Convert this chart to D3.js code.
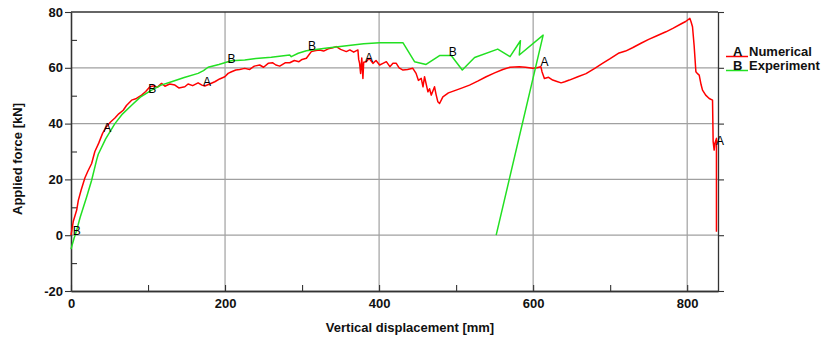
<!DOCTYPE html>
<html>
<head>
<meta charset="utf-8">
<script src="https://cdn.jsdelivr.net/npm/d3@7"></script>
<style>
  html, body { margin: 0; padding: 0; background: #fff; }
  svg { display: block; font-family: "Liberation Sans", Arial, sans-serif; }
</style>
</head>
<body>
<svg id="chart" width="823" height="340"></svg>
<script>
// data (x in mm, y in kN)
const numerical = [
  [0,0],[3,5],[7.4,9],[9.5,12.5],[13,16],[18,20.5],[22,23],[26.8,25.7],[31,30],[36,33],[41,36.5],
  [46,38.9],[51,40.5],[57,42],[62,43.5],[67.8,44.8],[72,46.5],[78.7,48.4],[85,49],[91.7,50.2],
  [97,51.5],[102.4,53.2],[108,53.6],[112,53],[117.6,54.4],[122,53.4],[128,54.2],[134.9,53.8],
  [140,52.8],[147.8,53.2],[152,54.2],[158,53.6],[165,54.6],[170,53.8],[173.7,53.5],[180,54.2],
  [186.7,55],[193,56],[199.7,56.8],[204,58],[208.4,58.6],[214,59.2],[219,59.4],[225.6,59.8],
  [232,59.4],[238,60.6],[245,61],[250,60.2],[256,61.6],[262,61.8],[266,61],[271,60.6],[278,61.8],
  [284,61.8],[290,62.6],[296,62.2],[300,63],[305.6,63.4],[312,65.8],[318,66.2],[322.9,66.4],
  [328,66],[334,66.8],[340,67.2],[344.5,67.6],[350,66.6],[357.5,65.8],[362,66.4],[367,65.6],
  [372.5,66.4],[373.5,63],[374.7,61.6],[376,58],[377.5,63.5],[379,56.2],[380,62],[383.4,62.2],
  [387,63.4],[392,61.6],[396,62.6],[400.7,61],[405,61.6],[409.4,62.2],[414,60.4],[418,61.6],
  [422.3,61.6],[426,60],[431,59.2],[437,59.4],[443.8,59.8],[448,58],[451,55.5],[454.7,56.2],
  [457,53.2],[459,56.8],[463.4,51.4],[465.5,52.5],[467.7,50.2],[472,53.2],[474,50.4],[476.3,47.8],
  [478.5,47.2],[482.8,49.6],[490,51],[500,52],[508,52.8],[517.4,53.8],[528,55.2],[539,56.8],
  [550,58.2],[560.6,59.4],[570,60.2],[582,60.4],[590,60.2],[599.5,59.8],[605,60],[610,60.4],
  [611.5,58.6],[614.6,56.2],[620,56.6],[625.4,55.6],[630,55.2],[636.3,54.6],[641,55],[647,55.6],
  [658,56.8],[668.7,57.9],[680,59.8],[690,61.6],[700,63.3],[710.6,65.2],[720,66],[729,67.2],
  [740,68.8],[750,70.2],[760,71.4],[772.4,72.9],[782,74.2],[791.8,75.7],[798,76.6],[803.5,77.7],
  [805,76.5],[806.9,74.7],[809,68],[811.3,58.6],[813,58],[815.6,57.4],[818,54],[819.9,52],
  [824,50.2],[828.6,49],[832.9,48.4],[833.7,33.5],[835,30.5],[836,33],[838,34.7],[838,1.2]
];
const experiment = [
  [0,-5],[3.9,-1.2],[7.4,1.8],[12,6.5],[20.3,13.7],[26.8,19.7],[33.3,27],[35.4,29],[45,34.5],
  [57,40],[67,43.5],[78.7,46.6],[90,49.5],[104.6,52],[117,53.8],[130.5,55],[147,56.5],[165,58],
  [172,59],[178,60.2],[192,61.2],[208,62.5],[225.6,62.8],[240,63.3],[260,63.8],[284,64.6],
  [286,64],[295,65.2],[305.6,66.1],[330,67],[355,67.8],[380,68.6],[400.7,69],[430.9,69],
  [446,62.2],[461,61.2],[478.5,64.4],[493.6,64.4],[508,59.2],[524,63.7],[554,66.7],[570,64],
  [583.5,69.7],[582,64.6],[613,71.7],[552,0]
];
// curve letters (symbol markers)
const numericalMarks = [[47,38.6],[176.7,55],[386.8,63.7],[614.6,62.2],[842.5,33.8]];
const experimentMarks = [[7.4,1.4],[105.4,52.4],[208.4,63.4],[312.9,67.9],[495.7,65.8]];

const xMajor = [0,200,400,600,800];
const xMinor = [100,300,500,700];
const yMajor = [-20,0,20,40,60,80];
const yMinor = [-10,10,30,50,70];

const series = [
  {name:"Numerical", letter:"A", data:numerical, marks:numericalMarks, color:"#ff0000"},
  {name:"Experiment", letter:"B", data:experiment, marks:experimentMarks, color:"#22e022"}
];

const Left = 71, Right = 718, Top = 12, Bottom = 291;

const svg = d3.select("#chart");
const x = d3.scaleLinear().domain([0,840]).range([Left,Right]);
const y = d3.scaleLinear().domain([-20,80]).range([Bottom,Top]);

// grid
const grid = svg.append("g").attr("stroke","#a0a0a0").attr("stroke-width",1.2);
grid.selectAll(".gx").data(xMajor.filter(d=>d>0)).join("line")
  .attr("x1",d=>x(d)).attr("x2",d=>x(d)).attr("y1",Top).attr("y2",Bottom);
grid.selectAll(".gy").data(yMajor.filter(d=>d>-20 && d<80)).join("line")
  .attr("x1",Left).attr("x2",Right).attr("y1",d=>y(d)).attr("y2",d=>y(d));

// axes (plain hyphen for negatives, like the original)
const axisColor = "#333";
const fmt = d=>String(d);
const yAxis = svg.append("g")
  .attr("transform",`translate(${Left},0)`)
  .call(d3.axisLeft(y).tickValues(yMajor).tickFormat(fmt).tickSize(6).tickSizeOuter(0).tickPadding(2));
const yMinorAxis = svg.append("g")
  .attr("transform",`translate(${Left},0)`)
  .call(d3.axisRight(y).tickValues(yMinor).tickSize(6).tickSizeOuter(0).tickFormat(""));
const xAxis = svg.append("g")
  .attr("transform",`translate(0,${Bottom})`)
  .call(d3.axisBottom(x).tickValues(xMajor).tickFormat(fmt).tickSizeInner(-6).tickSizeOuter(0).tickPadding(8));
const xMinorAxis = svg.append("g")
  .attr("transform",`translate(0,${Bottom})`)
  .call(d3.axisBottom(x).tickValues(xMinor).tickSizeInner(-6).tickSizeOuter(0).tickFormat(""));
const rightAxis = svg.append("g")
  .attr("transform",`translate(${Right},0)`)
  .call(d3.axisLeft(y).tickValues(yMajor).tickSizeInner(-6).tickSizeOuter(0).tickFormat(""));

[yAxis,yMinorAxis,xAxis,xMinorAxis,rightAxis].forEach(g=>{
  g.selectAll("path.domain").attr("stroke",axisColor).attr("stroke-width",1.3);
  g.selectAll(".tick line").attr("stroke",axisColor).attr("stroke-width",1.1);
  g.selectAll("text").attr("fill","#111").style("font-size","13px").style("font-weight","bold")
    .style("font-family",'"Liberation Sans", Arial, sans-serif');
});
// top border
svg.append("line").attr("x1",Left).attr("x2",Right).attr("y1",Top).attr("y2",Top)
  .attr("stroke",axisColor).attr("stroke-width",1.3);

// curves
const line = d3.line().x(d=>x(d[0])).y(d=>y(d[1]));
series.forEach(s=>{
  svg.append("path").datum(s.data)
    .attr("d",line)
    .attr("fill","none")
    .attr("stroke",s.color)
    .attr("stroke-width",1.5)
    .attr("stroke-linejoin","round");
});
series.forEach(s=>{
  svg.append("g").selectAll("text").data(s.marks).join("text")
    .attr("x",d=>x(d[0])).attr("y",d=>y(d[1]))
    .attr("dy","0.35em")
    .attr("text-anchor","middle")
    .style("font-size","12px")
    .attr("fill","#000")
    .text(s.letter);
});

// axis titles
svg.append("text")
  .attr("x",410).attr("y",332)
  .attr("text-anchor","middle")
  .style("font-size","13px").style("font-weight","bold")
  .attr("fill","#111")
  .text("Vertical displacement [mm]");
svg.append("text")
  .attr("transform","translate(22,159) rotate(-90)")
  .attr("text-anchor","middle")
  .style("font-size","13px").style("font-weight","bold")
  .attr("fill","#111")
  .text("Applied force [kN]");

// legend
const legend = svg.append("g").selectAll("g").data(series).join("g")
  .attr("transform",(d,i)=>`translate(726,${56 + i*14})`);
legend.append("line").attr("x1",0).attr("x2",22).attr("y1",0.5).attr("y2",0.5)
  .attr("stroke",d=>d.color).attr("stroke-width",1.5);
legend.append("text").attr("x",7).attr("y",0)
  .style("font-size","13px").style("font-weight","bold").attr("fill","#111")
  .text(d=>d.letter);
legend.append("text").attr("x",23).attr("y",0)
  .style("font-size","13px").style("font-weight","bold").attr("fill","#111")
  .text(d=>d.name);
</script>
</body>
</html>
